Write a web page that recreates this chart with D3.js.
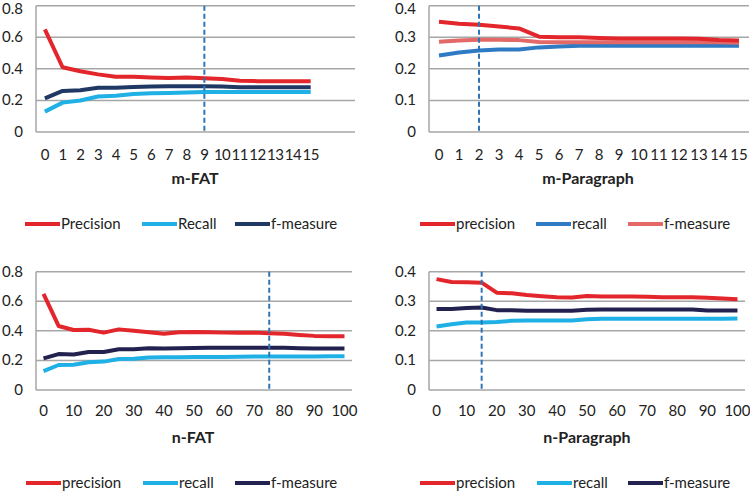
<!DOCTYPE html>
<html><head><meta charset="utf-8">
<script src="https://cdn.jsdelivr.net/npm/d3@7"></script>
<style>
html,body{margin:0;padding:0;background:#fff;}
svg{display:block;font-family:Lato,"Noto Sans",sans-serif;}
</style></head>
<body><svg id="c" width="750" height="491"></svg>
<script>
// ---- data ----
const mCategories = ["0","1","2","3","4","5","6","7","8","9","10","11","12","13","14","15"];
const nCategories = [0,5,10,15,20,25,30,35,40,45,50,55,60,65,70,75,80,85,90,95,100];
const nTickLabels = [0,10,20,30,40,50,60,70,80,90,100];

const mFatPrecision = [0.65,0.41,0.385,0.365,0.35,0.35,0.345,0.342,0.345,0.34,0.335,0.325,0.322,0.322,0.322,0.322];
const mFatRecall    = [0.129,0.186,0.2,0.225,0.23,0.241,0.245,0.247,0.25,0.253,0.253,0.253,0.253,0.253,0.253,0.253];
const mFatFmeasure  = [0.213,0.26,0.265,0.28,0.28,0.285,0.288,0.29,0.29,0.29,0.288,0.284,0.283,0.283,0.283,0.283];

const mParPrecision = [0.349,0.343,0.340,0.334,0.328,0.302,0.300,0.300,0.298,0.296,0.296,0.296,0.296,0.295,0.291,0.290];
const mParRecall    = [0.242,0.252,0.258,0.261,0.261,0.268,0.271,0.273,0.273,0.273,0.273,0.273,0.273,0.273,0.273,0.273];
const mParFmeasure  = [0.286,0.290,0.292,0.292,0.291,0.285,0.284,0.284,0.284,0.284,0.284,0.284,0.284,0.284,0.284,0.283];

const nFatPrecision = [0.65,0.433,0.406,0.408,0.388,0.41,0.40,0.39,0.38,0.39,0.392,0.39,0.388,0.388,0.388,0.383,0.38,0.372,0.366,0.363,0.363];
const nFatRecall    = [0.128,0.169,0.171,0.187,0.192,0.21,0.212,0.22,0.222,0.222,0.223,0.223,0.224,0.225,0.226,0.226,0.227,0.227,0.227,0.228,0.228];
const nFatFmeasure  = [0.214,0.243,0.24,0.257,0.257,0.275,0.275,0.282,0.28,0.283,0.284,0.285,0.285,0.285,0.285,0.286,0.285,0.283,0.281,0.281,0.281];

const nParPrecision = [0.375,0.365,0.364,0.363,0.329,0.327,0.321,0.317,0.314,0.313,0.318,0.316,0.316,0.316,0.315,0.314,0.314,0.314,0.312,0.309,0.307];
const nParRecall    = [0.215,0.222,0.228,0.228,0.230,0.234,0.235,0.235,0.235,0.235,0.239,0.241,0.241,0.241,0.241,0.241,0.241,0.241,0.241,0.241,0.242];
const nParFmeasure  = [0.274,0.274,0.277,0.279,0.270,0.270,0.268,0.268,0.268,0.268,0.271,0.272,0.272,0.272,0.272,0.272,0.272,0.272,0.269,0.269,0.269];

const yTicksFat = [0,0.2,0.4,0.6,0.8];
const yTicksPar = [0,0.1,0.2,0.3,0.4];

const RED = "#E3262B", LBLUE = "#1FB0E6", NAVY = "#1F3864", NAVY2 = "#22214F", MBLUE = "#2E7BC4", PINK = "#E36868";

const panels = [
  {title:"m-FAT", cats:mCategories, labels:mCategories, slots:18, ticks:yTicksFat, ymax:0.8, marker:"9",
   left:36, right:355, top:5.7, bottom:132, labelY:160, titleY:184, legendY:224, titleX:195,
   legendX:[25,142,235],
   series:[{name:"Precision",v:mFatPrecision,c:RED},{name:"Recall",v:mFatRecall,c:LBLUE},{name:"f-measure",v:mFatFmeasure,c:NAVY}],
   order:[1,2,0]},
  {title:"m-Paragraph", cats:mCategories, labels:mCategories, slots:16, ticks:yTicksPar, ymax:0.4, marker:"2",
   left:429, right:749, top:5.7, bottom:132, labelY:160, titleY:184, legendY:224, titleX:588,
   legendX:[420,536,628],
   series:[{name:"precision",v:mParPrecision,c:RED},{name:"recall",v:mParRecall,c:MBLUE},{name:"f-measure",v:mParFmeasure,c:PINK}],
   order:[1,2,0]},
  {title:"n-FAT", cats:nCategories, labels:nTickLabels, slots:21, ticks:yTicksFat, ymax:0.8, marker:75,
   left:36, right:352, top:271.7, bottom:390, labelY:416, titleY:443, legendY:483, titleX:193,
   legendX:[26,143,235],
   series:[{name:"precision",v:nFatPrecision,c:RED},{name:"recall",v:nFatRecall,c:LBLUE},{name:"f-measure",v:nFatFmeasure,c:NAVY2}],
   order:[1,2,0]},
  {title:"n-Paragraph", cats:nCategories, labels:nTickLabels, slots:21, ticks:yTicksPar, ymax:0.4, marker:15,
   left:429, right:745, top:271.7, bottom:390, labelY:416, titleY:443, legendY:483, titleX:587,
   legendX:[420,537,628],
   series:[{name:"precision",v:nParPrecision,c:RED},{name:"recall",v:nParRecall,c:LBLUE},{name:"f-measure",v:nParFmeasure,c:NAVY2}],
   order:[1,2,0]}
];

const svg = d3.select("#c");
const GRID = "#A6A6A6";
const FS = 15;

panels.forEach(p => {
  const g = svg.append("g");
  const x = d3.scaleLinear().domain([-0.5, p.slots - 0.5]).range([p.left, p.right]);
  const idx = v => p.cats.indexOf(v);
  const y = d3.scaleLinear().domain([0, p.ymax]).range([p.bottom, p.top]);

  // gridlines
  g.selectAll("line.grid").data(p.ticks).join("line")
    .attr("x1", p.left).attr("x2", p.right)
    .attr("y1", d => y(d)).attr("y2", d => y(d))
    .attr("stroke", GRID).attr("stroke-width", 1.5);
  // left axis line
  g.append("line").attr("x1", p.left).attr("x2", p.left).attr("y1", y(p.ymax)).attr("y2", y(0))
    .attr("stroke", GRID).attr("stroke-width", 1.5);

  // y tick labels
  g.selectAll("text.yt").data(p.ticks).join("text")
    .attr("x", p.left - 13).attr("y", d => Math.max(y(d) + 5, 14))
    .attr("text-anchor", "end").attr("font-size", FS).attr("fill", "#222")
    .text(d => d === 0 ? "0" : d3.format(".1f")(d));

  // x tick labels
  g.selectAll("text.xt").data(p.labels).join("text")
    .attr("x", d => x(idx(d))).attr("y", p.labelY)
    .attr("text-anchor", "middle").attr("font-size", FS).attr("fill", "#222")
    .attr("letter-spacing", p.slots === 18 ? -0.5 : 0)
    .text(d => d);

  // series lines
  const line = d3.line().x((d, i) => x(i)).y(d => y(d));
  p.order.forEach(k => {
    const s = p.series[k];
    g.append("path").datum(s.v).attr("d", line).attr("fill", "none")
      .attr("stroke", s.c).attr("stroke-width", 4).attr("stroke-linejoin", "round").attr("stroke-linecap", "butt");
  });

  // dashed marker
  const mx = x(idx(p.marker));
  g.append("line").attr("x1", mx).attr("x2", mx).attr("y1", y(p.ymax)).attr("y2", y(0) + 1)
    .attr("stroke", "#2E75B6").attr("stroke-width", 2).attr("stroke-dasharray", "5,3");

  // title
  g.append("text").attr("x", p.titleX).attr("y", p.titleY).attr("text-anchor", "middle")
    .attr("font-size", 16).attr("font-weight", "bold").attr("fill", "#222").text(p.title);

  // legend
  p.series.forEach((s, i) => {
    const lx = p.legendX[i];
    g.append("line").attr("x1", lx).attr("x2", lx + 35).attr("y1", p.legendY).attr("y2", p.legendY)
      .attr("stroke", s.c).attr("stroke-width", 4);
    g.append("text").attr("x", lx + 36).attr("y", p.legendY + 5).attr("font-size", FS).attr("fill", "#222").text(s.name);
  });
});
</script></body></html>
